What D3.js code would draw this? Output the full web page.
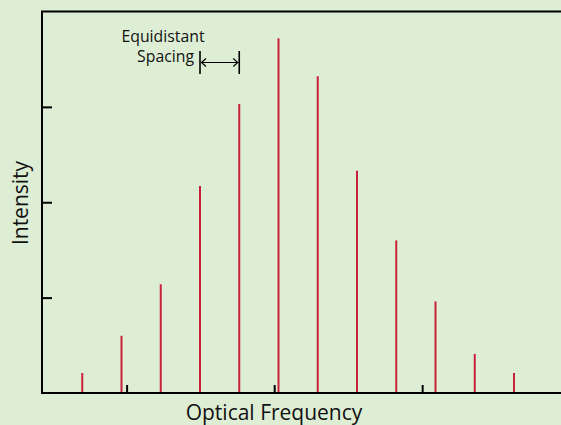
<!DOCTYPE html>
<html>
<head>
<meta charset="utf-8">
<script src="https://cdn.jsdelivr.net/npm/d3@7"></script>
<style>
  html, body { margin: 0; padding: 0; background: #deeed5; }
  svg { display: block; }
  text { font-family: "Open Sans", "Noto Sans", sans-serif; fill: #111; }
</style>
</head>
<body>
<svg id="chart" width="561" height="425"></svg>
<script>
// Comb lines: mode index and relative intensity
const modes = [1, 2, 3, 4, 5, 6, 7, 8, 9, 10, 11, 12];
const intensities = [0.21, 0.60, 1.14, 2.17, 3.03, 3.72, 3.32, 2.33, 1.60, 0.96, 0.41, 0.21];
const yTicks = [1, 2, 3];
const xTicks = [2.13, 5.89, 9.66];
const xLabel = "Optical Frequency";
const yLabel = "Intensity";
const annotationLines = ["Equidistant", "Spacing"];
const spacingFrom = 4, spacingTo = 5;

const svg = d3.select("#chart");
const W = 561, H = 425;
const mLeft = 42, mTop = 11.5, mBottom = 393;

const x = d3.scaleLinear().domain([0, 13.3]).range([43, 43 + 13.3 * 39.25]);
const y = d3.scaleLinear().domain([0, 4]).range([mBottom, mTop]);

svg.append("rect").attr("width", W).attr("height", H).attr("fill", "#deeed5");

// Comb lines
svg.append("g").selectAll("line").data(modes).join("line")
  .attr("x1", d => x(d)).attr("x2", d => x(d))
  .attr("y1", y(0)).attr("y2", (d, i) => y(intensities[i]))
  .attr("stroke", "#c8223a").attr("stroke-width", 2);

// Y axis (ticks point inward)
const yAxis = d3.axisRight(y).tickValues(yTicks).tickSize(10).tickFormat("");
const gy = svg.append("g").attr("transform", `translate(${mLeft},0)`).call(yAxis);
gy.select(".domain").remove();
gy.selectAll(".tick line").attr("stroke", "#000").attr("stroke-width", 2);

// X axis (ticks point upward)
const xAxis = d3.axisTop(x).tickValues(xTicks).tickSize(8).tickFormat("");
const gx = svg.append("g").attr("transform", `translate(0,${mBottom})`).call(xAxis);
gx.select(".domain").remove();
gx.selectAll(".tick line").attr("stroke", "#000").attr("stroke-width", 2);

// Frame: left, top, bottom
svg.append("path")
  .attr("d", `M${W + 5},${mTop} H${mLeft} V${mBottom} H${W + 5}`)
  .attr("fill", "none").attr("stroke", "#000").attr("stroke-width", 2);

// Axis titles
svg.append("text").attr("x", 274).attr("y", 420).attr("text-anchor", "middle")
  .attr("font-size", 21).text(xLabel);
svg.append("text").attr("transform", "translate(28,203) rotate(-90)")
  .attr("text-anchor", "middle").attr("font-size", 21).text(yLabel);

// Annotation
svg.append("text").attr("x", 163).attr("y", 41.5).attr("text-anchor", "middle")
  .attr("font-size", 15.8).text(annotationLines[0]);
svg.append("text").attr("x", 194).attr("y", 62).attr("text-anchor", "end")
  .attr("font-size", 15.8).text(annotationLines[1]);

const ax1 = x(spacingFrom), ax2 = x(spacingTo), ay = 62.5;
const ann = svg.append("g").attr("stroke", "#000").attr("stroke-width", 1.6).attr("fill", "none");
ann.append("line").attr("x1", ax1).attr("x2", ax1).attr("y1", 51).attr("y2", 74);
ann.append("line").attr("x1", ax2).attr("x2", ax2).attr("y1", 51).attr("y2", 74);
ann.append("line").attr("x1", ax1 + 1).attr("x2", ax2 - 1).attr("y1", ay).attr("y2", ay).attr("stroke-width", 1.2);
ann.append("path").attr("d", `M${ax1 + 6},${ay - 4} L${ax1 + 1.5},${ay} L${ax1 + 6},${ay + 4}`).attr("stroke-width", 1.2);
ann.append("path").attr("d", `M${ax2 - 6},${ay - 4} L${ax2 - 1.5},${ay} L${ax2 - 6},${ay + 4}`).attr("stroke-width", 1.2);
</script>
</body>
</html>
